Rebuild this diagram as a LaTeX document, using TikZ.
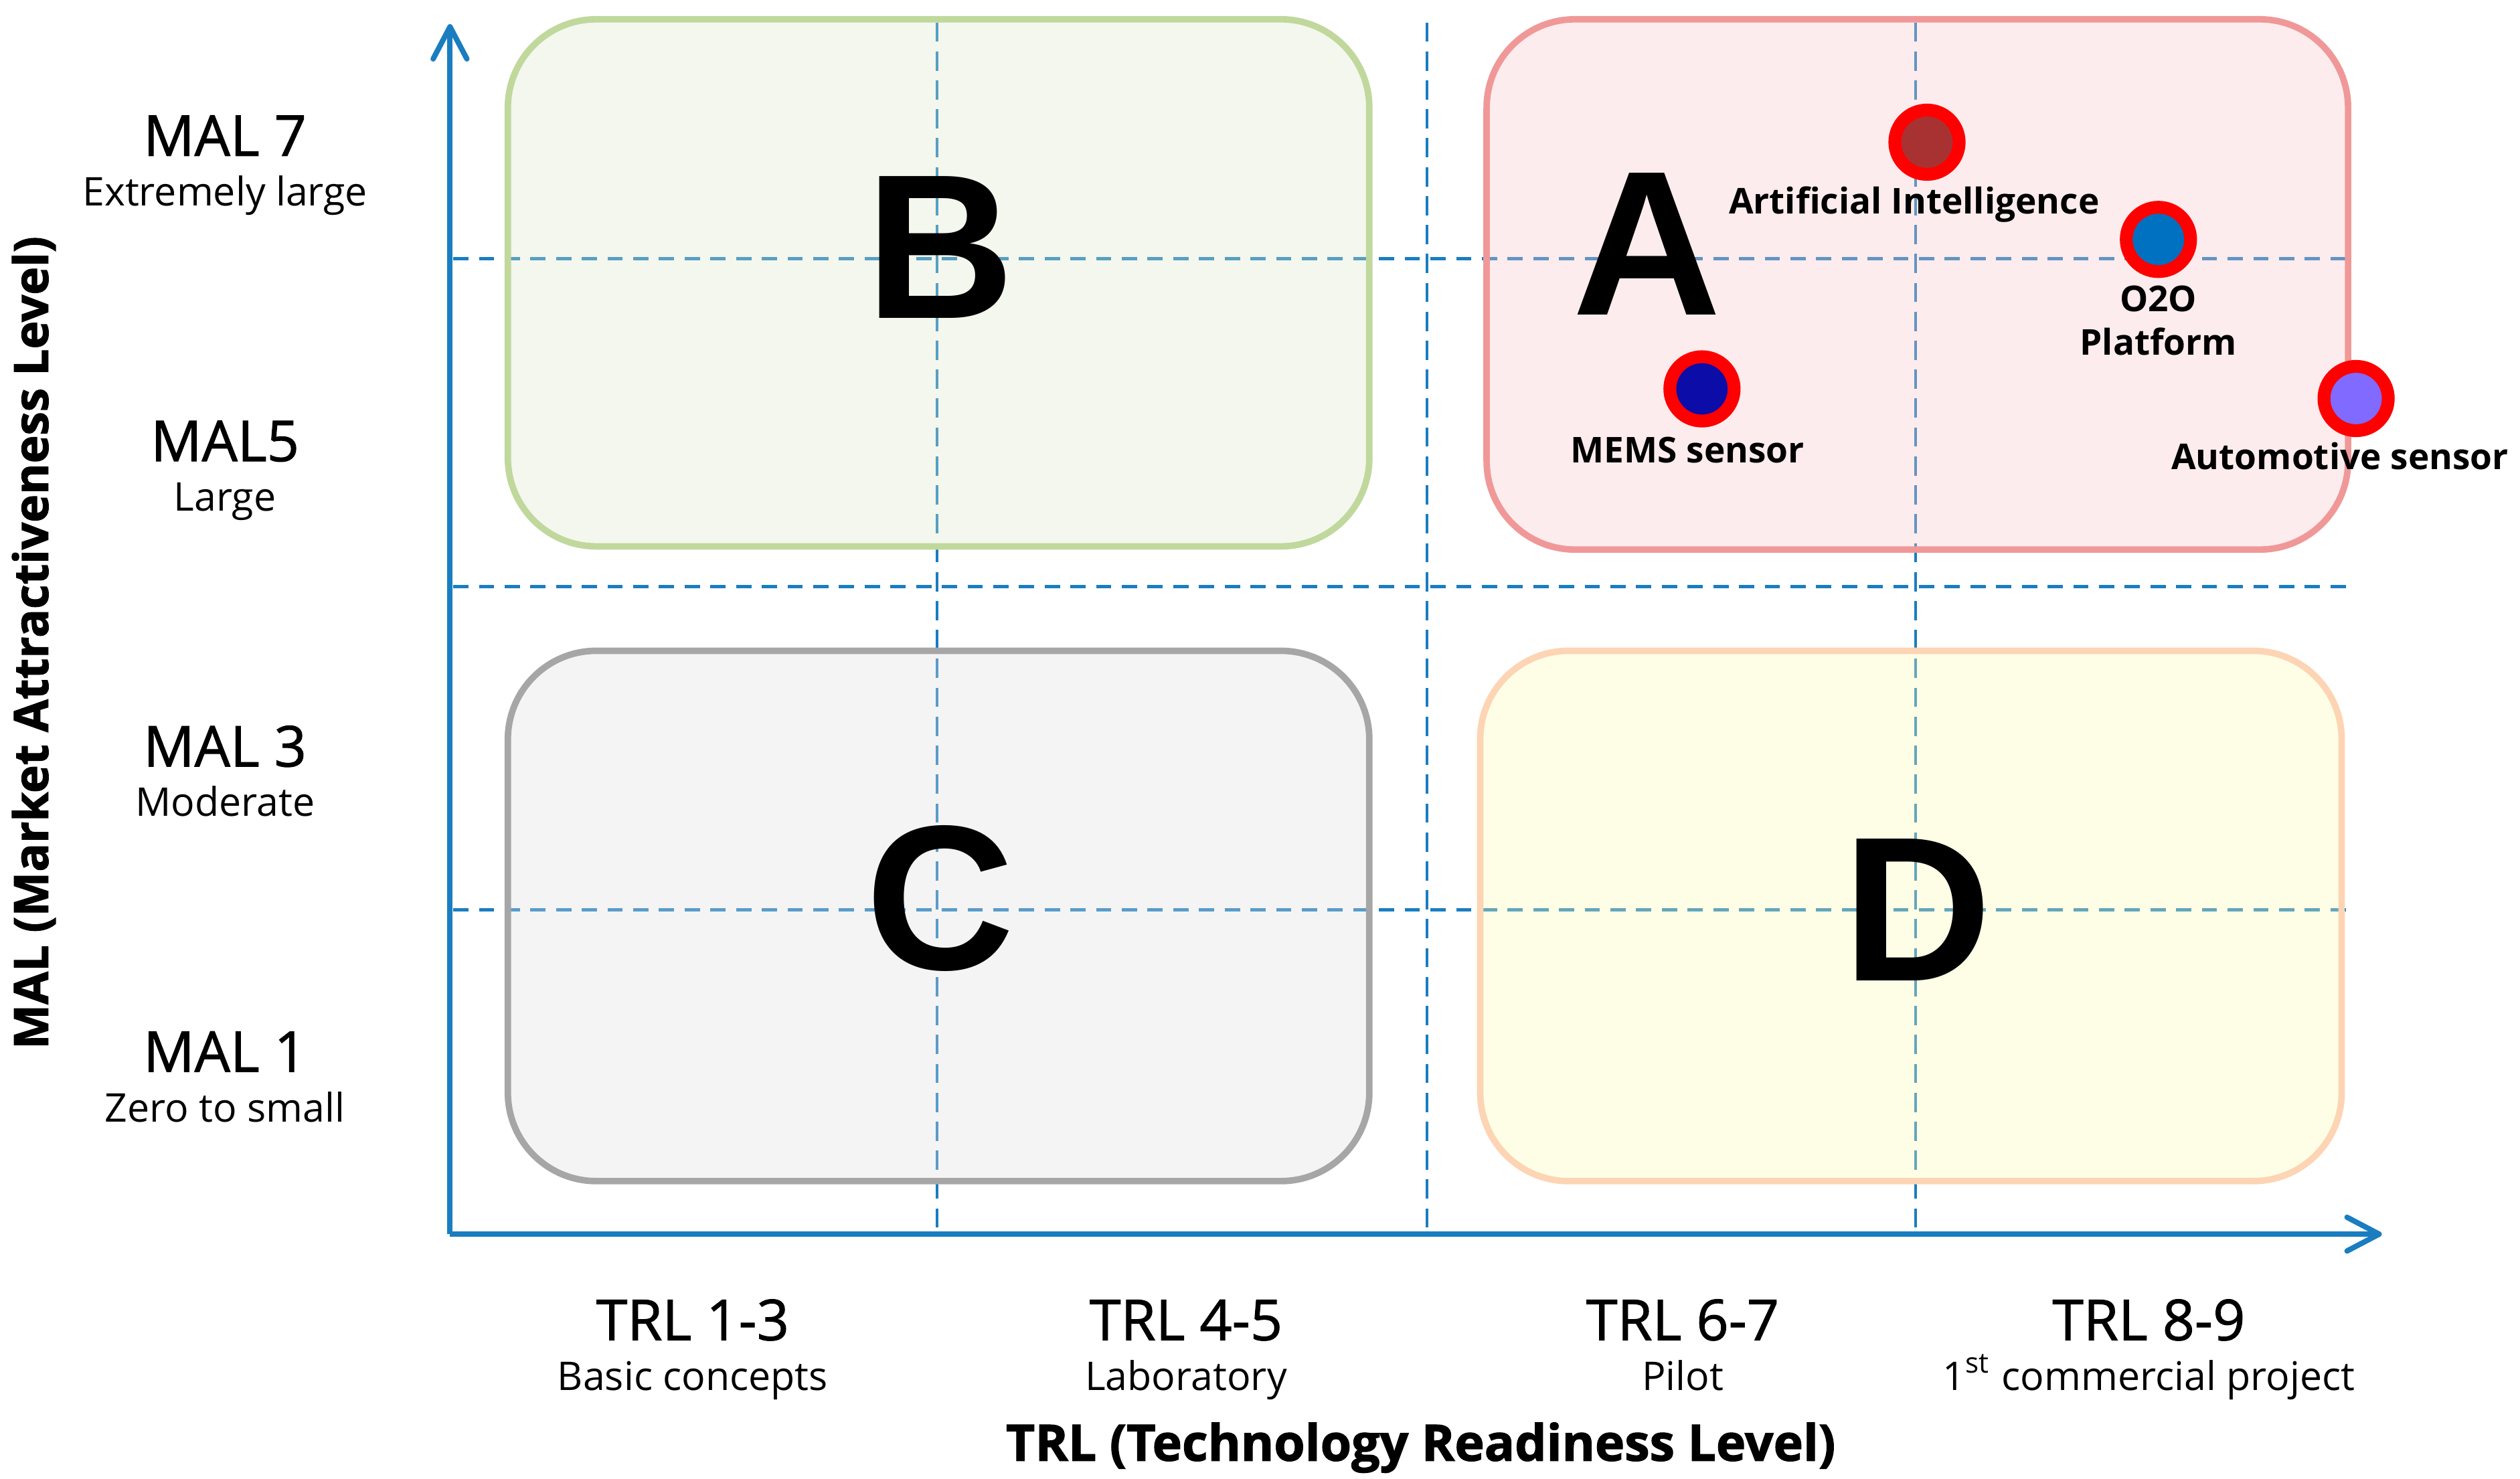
\documentclass[tikz,border=0pt]{standalone}
\usepackage{fontspec}
\setmainfont{Open Sans}
\newfontfamily\quadfont{Liberation Sans}
\newfontfamily\levelfont[FakeBold=1.2]{Open Sans}
\newfontfamily\titlefont[BoldFeatures={FakeBold=1.6}]{Open Sans}
\usetikzlibrary{arrows.meta}

\begin{document}
\begin{tikzpicture}[
		axis/.style={color={rgb,255:red,26; green,125; blue,192}, line width=0.95pt, -{Straight Barb[length=0.2cm, width=0.21cm, round]}},
		hgrid/.style={color={rgb,255:red,26; green,125; blue,192}, line width=0.6pt, dash pattern=on 0.095cm off 0.065cm},
		vgrid/.style={color={rgb,255:red,26; green,125; blue,192}, line width=0.5pt, dash pattern=on 0.12cm off 0.06cm},
		quadbox/.style={rounded corners=0.55cm, line width=1.15pt, fill opacity=0.33},
		quadletter/.style={font=\quadfont\bfseries\fontsize{36.5}{40}\selectfont, inner sep=0pt},
		level/.style={font=\levelfont\fontsize{10}{12}\selectfont, anchor=base, inner sep=0pt},
		sublevel/.style={font=\fontsize{7}{8.4}\selectfont, anchor=base, inner sep=0pt},
		axistitle/.style={font=\titlefont\bfseries\fontsize{8.4}{10}\selectfont, inner sep=0pt},
		tech/.style={font=\bfseries\fontsize{6.3}{7.7}\selectfont, anchor=base, inner sep=0pt, align=center},
		techdot/.style={circle, draw={rgb,255:red,255; green,0; blue,0}, line width=0.08cm, minimum size=0.40cm, inner sep=0pt}
	]
		\useasboundingbox (0,0) rectangle (15.68,9.20);
		
		% grid
		\draw[hgrid] (2.82,7.59) -- (14.65,7.59);
		\draw[hgrid] (2.82,5.55) -- (14.65,5.55);
		\draw[hgrid] (2.82,3.54) -- (14.65,3.54);
		\draw[vgrid] (5.83,9.06) -- (5.83,1.55);
		\draw[vgrid] (8.88,9.06) -- (8.88,1.55);
		\draw[vgrid] (11.92,9.06) -- (11.92,1.55);
		
		% quadrants
		\draw[quadbox, draw={rgb,255:red,192; green,216; blue,156}, fill={rgb,255:red,219; green,231; blue,201}] (3.16,9.08) rectangle (8.52,5.80);
		\draw[quadbox, draw={rgb,255:red,240; green,152; blue,152}, fill={rgb,255:red,249; green,197; blue,200}] (9.25,9.08) rectangle (14.61,5.78);
		\draw[quadbox, draw={rgb,255:red,166; green,166; blue,166}, fill={rgb,255:red,222; green,222; blue,222}] (3.16,5.15) rectangle (8.52,1.85);
		\draw[quadbox, draw={rgb,255:red,253; green,212; blue,180}, fill={rgb,255:red,252; green,252; blue,179}] (9.21,5.15) rectangle (14.57,1.85);
		
		\node[quadletter] (qb) at (5.85,7.66) {B};
		\node[quadletter] (qa) at (10.25,7.68) {A};
		\node[quadletter] (qc) at (5.85,3.61) {C};
		\node[quadletter] (qd) at (11.93,3.54) {D};
		
		% axes
		\coordinate (origin) at (2.80,1.52);
		\coordinate (ytip) at (2.80,9.05);
		\coordinate (xtip) at (14.82,1.52);
		\draw[axis] (origin) -- (ytip);
		\draw[axis] (origin) -- (xtip);
		
		% MAL levels
		\node[level] (mal7) at (1.40,8.23) {MAL 7};
		\node[sublevel] (mal7sub) at (1.40,7.92) {Extremely large};
		\node[level] (mal5) at (1.40,6.33) {MAL5};
		\node[sublevel] (mal5sub) at (1.40,6.02) {Large};
		\node[level] (mal3) at (1.40,4.43) {MAL 3};
		\node[sublevel] (mal3sub) at (1.40,4.12) {Moderate};
		\node[level] (mal1) at (1.40,2.53) {MAL 1};
		\node[sublevel] (mal1sub) at (1.40,2.22) {Zero to small};
		
		% TRL levels
		\node[level] (trl13) at (4.31,0.86) {TRL 1-3};
		\node[sublevel] (trl13sub) at (4.31,0.55) {Basic concepts};
		\node[level] (trl45) at (7.38,0.86) {TRL 4-5};
		\node[sublevel] (trl45sub) at (7.38,0.55) {Laboratory};
		\node[level] (trl67) at (10.47,0.86) {TRL 6-7};
		\node[sublevel] (trl67sub) at (10.47,0.55) {Pilot};
		\node[level] (trl89) at (13.37,0.86) {TRL 8-9};
		\node[sublevel] (trl89sub) at (13.37,0.55) {1\textsuperscript{st} commercial project};
		
		\node[axistitle, anchor=base, font=\titlefont\bfseries\fontsize{8.9}{10}\selectfont] (trltitle) at (8.84,0.11) {TRL (Technology Readiness Level)};
		\node[axistitle, rotate=90] (maltitle) at (0.21,5.20) {MAL (Market Attractiveness Level)};
		
		% technologies
		\node[techdot, fill={rgb,255:red,168; green,50; blue,50}] (ai) at (11.99,8.315) {};
		\node[techdot, fill={rgb,255:red,0; green,112; blue,192}] (oto) at (13.43,7.71) {};
		\node[techdot, fill={rgb,255:red,12; green,12; blue,168}] (mems) at (10.59,6.78) {};
		\node[techdot, fill={rgb,255:red,128; green,106; blue,255}] (auto) at (14.66,6.72) {};
		
		\node[tech] (ailabel) at (11.91,7.87) {Artificial Intelligence};
		\node[tech] (otolabel) at (13.43,6.99) {O2O\\Platform};
		\node[tech] (memslabel) at (10.50,6.32) {MEMS sensor};
		\node[tech] (autolabel) at (14.56,6.28) {Automotive sensor};
		
	\end{tikzpicture}
\end{document}
